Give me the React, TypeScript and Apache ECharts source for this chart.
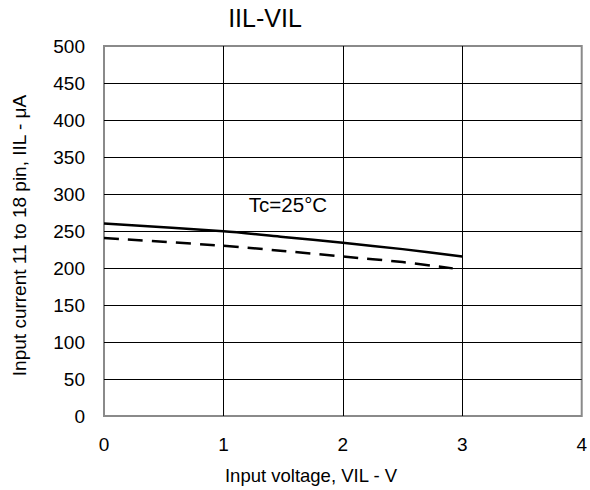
import React, { useEffect, useRef } from "react";
import * as echarts from "echarts";

const xTicks = [0, 1, 2, 3, 4];
const yTicks = [0, 50, 100, 150, 200, 250, 300, 350, 400, 450, 500];
const solidX = [0, 1, 1.5, 2, 2.5, 3];
const solidY = [260, 249.5, 242, 234, 225.5, 215.5];
const dashedX = [0, 1, 1.5, 2, 2.5, 2.92];
const dashedY = [240.5, 230, 223, 215.5, 208, 199.5];
const titleText = "IIL-VIL";
const noteText = "Tc=25°C";
const xName = "Input voltage, VIL - V";
const yName = "Input current 11 to 18 pin, IIL - μA";

const FONT = "'Liberation Sans', Arial, sans-serif";

export default function App() {
  const ref = useRef<HTMLDivElement>(null);
  useEffect(() => {
    if (!ref.current) return;
    const chart = echarts.init(ref.current, undefined, { renderer: "svg" });
    chart.setOption({
      animation: false,
      backgroundColor: "#ffffff",
      textStyle: { fontFamily: FONT },
      grid: {
        left: 104,
        top: 46,
        right: 7,
        bottom: 74,
        show: true,
        borderColor: "#8a8a8a",
        borderWidth: 2,
        backgroundColor: "transparent",
      },
      xAxis: {
        type: "value",
        min: xTicks[0],
        max: xTicks[xTicks.length - 1],
        interval: 1,
        axisLine: { show: false },
        axisTick: { show: false },
        axisLabel: { color: "#000", fontSize: 19, margin: 19, fontFamily: FONT },
        splitLine: {
          show: true,
          showMinLine: false,
          showMaxLine: false,
          lineStyle: { color: "#000", width: 1 },
        },
      },
      yAxis: {
        type: "value",
        min: yTicks[0],
        max: yTicks[yTicks.length - 1],
        interval: 50,
        axisLine: { show: false },
        axisTick: { show: false },
        axisLabel: { color: "#000", fontSize: 19, margin: 19, fontFamily: FONT },
        splitLine: {
          show: true,
          showMinLine: false,
          showMaxLine: false,
          lineStyle: { color: "#000", width: 1 },
        },
      },
      graphic: [
        {
          type: "text",
          x: 265,
          y: 18,
          style: {
            text: titleText,
            fontSize: 25,
            fontFamily: FONT,
            fill: "#000",
            textAlign: "center",
            textVerticalAlign: "middle",
          },
        },
        {
          type: "text",
          x: 311,
          y: 475,
          style: {
            text: xName,
            fontSize: 18.5,
            fontFamily: FONT,
            fill: "#000",
            textAlign: "center",
            textVerticalAlign: "middle",
          },
        },
        {
          type: "text",
          x: 19,
          y: 235.5,
          rotation: Math.PI / 2,
          style: {
            text: yName,
            fontSize: 19,
            fontFamily: FONT,
            fill: "#000",
            textAlign: "center",
            textVerticalAlign: "middle",
          },
        },
        {
          type: "text",
          x: 288,
          y: 204,
          style: {
            text: noteText,
            fontSize: 20.5,
            fontFamily: FONT,
            fill: "#000",
            textAlign: "center",
            textVerticalAlign: "middle",
          },
        },
      ],
      series: [
        {
          type: "line",
          data: solidX.map((x, i) => [x, solidY[i]]),
          showSymbol: false,
          smooth: 0.3,
          lineStyle: { color: "#000", width: 2.5, type: "solid" },
        },
        {
          type: "line",
          data: dashedX.map((x, i) => [x, dashedY[i]]),
          showSymbol: false,
          smooth: 0.3,
          lineStyle: { color: "#000", width: 2.5, type: [15, 9] },
        },
      ],
    });
    return () => chart.dispose();
  }, []);
  return (
    <div
      ref={ref}
      style={{ position: "fixed", left: 0, top: 0, width: 590, height: 490 }}
    />
  );
}
